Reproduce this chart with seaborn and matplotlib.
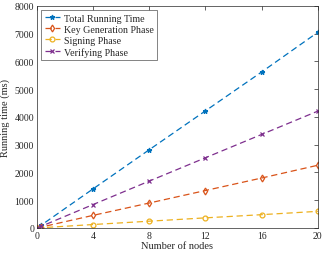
import matplotlib
matplotlib.use("Agg")
import matplotlib.pyplot as plt
import seaborn as sns
import pandas as pd

nodes = [0, 0.3, 4, 8, 12, 16, 20]
total = [0, 100, 1410, 2820, 4220, 5620, 7050]
keygen = [0, 32, 455, 900, 1350, 1800, 2260]
signing = [0, 9, 125, 245, 365, 480, 600]
verifying = [0, 59, 845, 1690, 2530, 3370, 4210]
labels = ["Total Running Time", "Key Generation Phase", "Signing Phase", "Verifying Phase"]
xticks = [0, 4, 8, 12, 16, 20]
yticks = [0, 1000, 2000, 3000, 4000, 5000, 6000, 7000, 8000]

sns.set_style("white")
plt.rcParams['font.family'] = ['Liberation Serif', 'DejaVu Serif']

fig = plt.figure(figsize=(3.24, 2.55), dpi=100)
ax = fig.add_axes([0.114, 0.102, 0.867, 0.871])

colors = ["#0072BD", "#D95319", "#EDB120", "#7E2F8E"]
markers = ["*", "d", "o", "x"]
series = [total, keygen, signing, verifying]
for vals, lab, c, m in zip(series, labels, colors, markers):
    df = pd.DataFrame({"x": nodes, "y": vals})
    sns.lineplot(data=df, x="x", y="y", ax=ax, color=c, lw=0.9,
                 linestyle=(0, (5, 3)), marker=m, markersize=3.5,
                 markerfacecolor=(c if m == "*" else "none"),
                 markeredgecolor=c, markeredgewidth=0.9, label=lab)

ax.set_xlim(0, 20)
ax.set_ylim(0, 8000)
ax.set_xticks(xticks)
ax.set_yticks(yticks)
ax.tick_params(direction="in", length=3, width=0.5, labelsize=7, top=True, right=True, pad=2,
               colors="#262626")
for s in ax.spines.values():
    s.set_linewidth(0.5)
    s.set_color("#262626")
ax.set_xlabel("Number of nodes", fontsize=7.5, labelpad=1)
ax.set_ylabel("Running time (ms)", fontsize=7.5, labelpad=3)
leg = ax.legend(loc="upper left", fontsize=7.2, frameon=True, fancybox=False,
                edgecolor="#262626", handlelength=1.5, borderpad=0.35, labelspacing=0.2,
                handletextpad=0.4, borderaxespad=0.45)
leg.get_frame().set_linewidth(0.5)
fig.savefig("out.png", dpi=100)
